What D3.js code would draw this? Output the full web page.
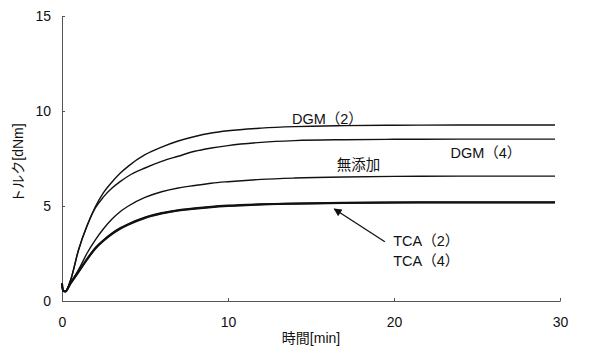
<!DOCTYPE html>
<html><head><meta charset="utf-8">
<script src="https://cdn.jsdelivr.net/npm/d3@7"></script>
<style>
body{margin:0;background:#fff;}
text{font-family:"Liberation Sans","Noto Sans CJK JP",sans-serif;fill:#111;}
</style></head>
<body><svg id="c" width="608" height="349"></svg>
<script>
const time   = [0, 0.06, 0.2, 0.5, 1, 1.5, 2, 2.5, 3, 3.5, 4, 5, 6, 7, 8, 9, 10, 12, 14, 17, 20, 24, 29.7];
const dgm2   = [0.92, 0.55, 0.5, 1.05, 2.7, 3.95, 4.95, 5.7, 6.25, 6.72, 7.1, 7.7, 8.1, 8.42, 8.66, 8.84, 8.96, 9.1, 9.18, 9.23, 9.25, 9.26, 9.26];
const dgm4   = [0.92, 0.55, 0.5, 1.05, 2.7, 3.93, 4.88, 5.48, 5.93, 6.28, 6.58, 7.0, 7.35, 7.62, 7.88, 8.05, 8.18, 8.35, 8.44, 8.49, 8.51, 8.52, 8.52];
const mutenka= [0.92, 0.55, 0.5, 0.95, 1.65, 2.5, 3.2, 3.8, 4.3, 4.7, 5.0, 5.45, 5.75, 5.95, 6.08, 6.2, 6.28, 6.4, 6.47, 6.53, 6.56, 6.57, 6.57];
const tca2   = [0.92, 0.55, 0.5, 0.92, 1.55, 2.2, 2.78, 3.2, 3.55, 3.83, 4.05, 4.4, 4.63, 4.78, 4.88, 4.96, 5.02, 5.09, 5.13, 5.17, 5.19, 5.2, 5.2];
const tca4   = [0.92, 0.55, 0.5, 0.9, 1.53, 2.17, 2.75, 3.17, 3.52, 3.8, 4.02, 4.37, 4.6, 4.76, 4.86, 4.94, 5.0, 5.08, 5.12, 5.16, 5.18, 5.19, 5.19];
const xTicks = [0, 10, 20, 30];
const yTicks = [0, 5, 10, 15];
const seriesNames = ["DGM（2）", "DGM（4）", "無添加", "TCA（2）", "TCA（4）"];

const svg = d3.select("#c");
const x = d3.scaleLinear().domain([0, 30]).range([62, 560]);
const y = d3.scaleLinear().domain([0, 15]).range([301, 16]);

// axes
const xAxis = svg.append("g").attr("transform", "translate(0,301)")
  .call(d3.axisBottom(x).tickValues(xTicks).tickSizeInner(-3).tickSizeOuter(0).tickPadding(16));
const yAxis = svg.append("g").attr("transform", "translate(62,0)")
  .call(d3.axisLeft(y).tickValues(yTicks).tickSizeInner(-3).tickSizeOuter(0).tickPadding(11));
[xAxis, yAxis].forEach(a => {
  a.select(".domain").attr("stroke", "#555").attr("stroke-width", 1);
  a.selectAll(".tick line").attr("stroke", "#555");
  a.selectAll(".tick text").attr("font-size", 14).attr("font-family", "Liberation Sans, sans-serif").attr("fill", "#111");
});

const line = d3.line().x((d, i) => x(time[i])).y(d => y(d)).curve(d3.curveMonotoneX);
const data = [
  {v: dgm2, w: 1.4},
  {v: dgm4, w: 1.4},
  {v: mutenka, w: 1.4},
  {v: tca2, w: 2.0},
  {v: tca4, w: 2.0}
];
svg.selectAll("path.s").data(data).join("path").attr("class", "s")
  .attr("d", d => line(d.v)).attr("fill", "none")
  .attr("stroke", "#111").attr("stroke-width", d => d.w);

// labels (data coordinates)
const labels = [
  {t: seriesNames[0], tx: 13.85, v: 9.33},
  {t: seriesNames[1], tx: 23.4, v: 7.55},
  {t: seriesNames[2], tx: 16.55, v: 6.9},
  {t: seriesNames[3], tx: 19.95, v: 2.88},
  {t: seriesNames[4], tx: 19.95, v: 1.83}
];
svg.selectAll("text.lab").data(labels).join("text").attr("class", "lab")
  .attr("x", d => x(d.tx)).attr("y", d => y(d.v)).attr("font-size", 14.5).text(d => d.t);

// arrow
svg.append("defs").append("marker").attr("id", "ah").attr("viewBox", "0 0 10 10")
  .attr("refX", 9).attr("refY", 5).attr("markerWidth", 10).attr("markerHeight", 8)
  .attr("orient", "auto").attr("markerUnits", "userSpaceOnUse")
  .append("path").attr("d", "M0,0 L10,5 L0,10 Z").attr("fill", "#111");
svg.append("line").attr("x1", x(19.45)).attr("y1", y(3.12)).attr("x2", x(16.4)).attr("y2", y(4.84))
  .attr("stroke", "#111").attr("stroke-width", 1.3).attr("marker-end", "url(#ah)");

// axis titles
svg.append("text").attr("x", 311).attr("y", 343).attr("text-anchor", "middle").attr("font-size", 14).text("時間[min]");
svg.append("text").attr("transform", "translate(23,163) rotate(-90)").attr("text-anchor", "middle").attr("font-size", 14).text("トルク[dNm]");
</script></body></html>
